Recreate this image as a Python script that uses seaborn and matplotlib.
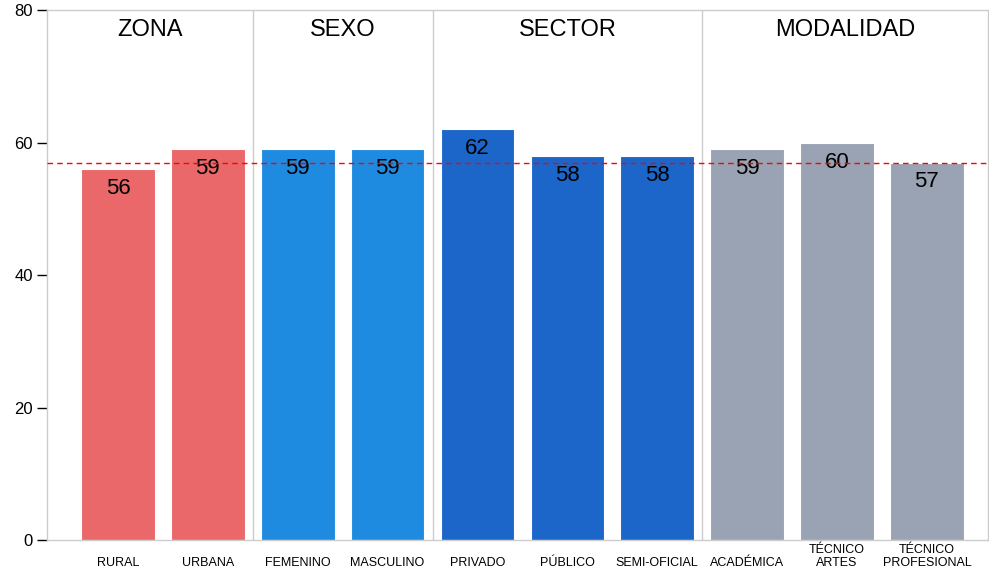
import numpy as np
import pandas as pd
import matplotlib
matplotlib.use("Agg")
import matplotlib.pyplot as plt
import seaborn as sns

# chart values
categorias = ["RURAL", "URBANA", "FEMENINO", "MASCULINO", "PRIVADO", "PÚBLICO",
              "SEMI-OFICIAL", "ACADÉMICA", "TÉCNICO\nARTES", "TÉCNICO\nPROFESIONAL"]
grupo = ["ZONA", "ZONA", "SEXO", "SEXO", "SECTOR", "SECTOR", "SECTOR",
         "MODALIDAD", "MODALIDAD", "MODALIDAD"]
puntaje = [56, 59, 59, 59, 62, 58, 58, 59, 60, 57]
promedio = 57
grupos = ["ZONA", "SEXO", "SECTOR", "MODALIDAD"]
colores = {"ZONA": "#EA686A", "SEXO": "#1F8BE0", "SECTOR": "#1C66CA", "MODALIDAD": "#99A3B3"}

df = pd.DataFrame({"cat": categorias, "grupo": grupo, "val": puntaje})

sns.set_style("white")
plt.rcParams["font.family"] = ["Liberation Sans", "DejaVu Sans"]
plt.rcParams["text.color"] = "black"
plt.rcParams["xtick.color"] = "black"
plt.rcParams["ytick.color"] = "black"

fig = plt.figure(figsize=(9.89, 5.69), dpi=100)
ax = fig.add_axes([0.0475, 0.051, 0.9515, 0.931])

sns.barplot(data=df, x="cat", y="val", hue="grupo", palette=colores, dodge=False,
            width=0.82, saturation=1, edgecolor="white", linewidth=0.8,
            legend=False, ax=ax)

# value labels inside the bars
for i, v in enumerate(puntaje):
    ax.annotate(str(v), (i, v), xytext=(0, -14), textcoords="offset points",
                ha="center", va="center", fontsize=16, color="black")

ax.axhline(promedio, color="#FF0000", linestyle=(0, (4, 3)), linewidth=1, zorder=5)

# group separators and titles
n = [grupo.count(g) for g in grupos]
bordes = np.cumsum(n)[:-1] - 0.5
xmin, xmax = -0.79, 9.68
for b in bordes:
    ax.axvline(b, color="#CCCCCC", linewidth=1, zorder=0)
lims = [xmin] + list(bordes) + [xmax]
for g, a, b in zip(grupos, lims[:-1], lims[1:]):
    ax.text((a + b) / 2, 77.0, g, ha="center", va="center", fontsize=17, color="black")

ax.set_xlim(xmin, xmax)
ax.set_ylim(0, 80)
ax.set_yticks([0, 20, 40, 60, 80])
ax.set_xlabel("")
ax.set_ylabel("")
ax.tick_params(axis="y", length=7, width=1, color="black", labelsize=12, pad=3, left=True)
ax.tick_params(axis="x", length=0, labelsize=9, pad=21)
for lab in ax.get_xticklabels():
    lab.set_verticalalignment("bottom")
    lab.set_linespacing(1.15)

for s in ax.spines.values():
    s.set_color("#CCCCCC")
    s.set_linewidth(1)

fig.savefig("out.png", dpi=100)
